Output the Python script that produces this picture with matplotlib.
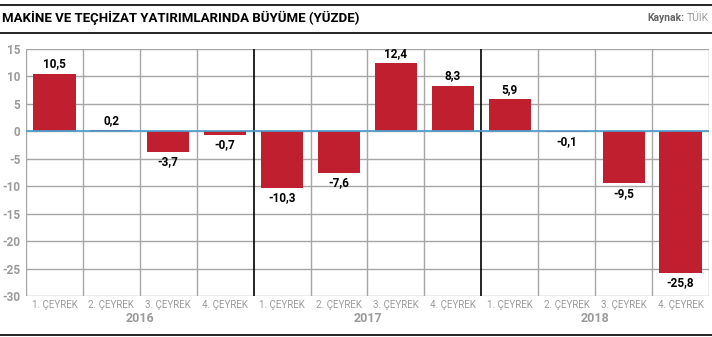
import matplotlib
matplotlib.use("Agg")
import matplotlib.pyplot as plt
from matplotlib.lines import Line2D

quarters = ["1. ÇEYREK", "2. ÇEYREK", "3. ÇEYREK", "4. ÇEYREK"] * 3
years = ["2016", "2017", "2018"]
values = [10.5, 0.2, -3.7, -0.7, -10.3, -7.6, 12.4, 8.3, 5.9, -0.1, -9.5, -25.8]
yticks = [15, 10, 5, 0, -5, -10, -15, -20, -25, -30]

title = "MAKİNE VE TEÇHİZAT YATIRIMLARINDA BÜYÜME (YÜZDE)"
source_bold = "Kaynak:"
source = "TÜİK"

RED = "#C01F2F"
GRID = "#A6A6A6"
GRAYTXT = "#9A9A9A"
FONT = ["Roboto", "DejaVu Sans"]

fig = plt.figure(figsize=(7.12, 3.37), dpi=100)
ax = fig.add_axes([26/712, 1-296/337, 683/712, 247/337])

n = len(values)
x = list(range(n))
ax.bar(x, values, width=0.74, color=RED, zorder=3)
ax.set_xlim(-0.5, n-0.5)
ax.set_ylim(-30, 15)

# grid
for yv in yticks:
    ax.axhline(yv, color=GRID, lw=1.0, zorder=1)
for i in range(n+1):
    xv = i - 0.5
    if i in (4, 8):
        ax.axvline(xv, color="black", lw=1.2, zorder=2)
    else:
        ax.axvline(xv, color=GRID, lw=1.0, zorder=1)
ax.axhline(0, color="#4A9FD0", lw=1.2, zorder=4)

for s in ax.spines.values():
    s.set_visible(False)
ax.set_yticks(yticks)
ax.set_yticklabels([str(v) for v in yticks], fontsize=8.5, color=GRAYTXT,
                   fontweight="bold", family=FONT)
ax.tick_params(axis="y", length=0, pad=4)
ax.set_xticks(x)
ax.set_xticklabels(quarters, fontsize=7, color=GRAYTXT, family=FONT)
ax.tick_params(axis="x", length=0, pad=3)

for xi, v in zip(x, values):
    lab = f"{v:.1f}".replace(".", ",")
    if v >= 0:
        ax.text(xi, v + 0.6, lab, ha="center", va="bottom", fontsize=8.5,
                fontweight="bold", color="black", family=FONT, zorder=5)
    else:
        ax.text(xi, v - 0.6, lab, ha="center", va="top", fontsize=8.5,
                fontweight="bold", color="black", family=FONT, zorder=5)

for k, yr in enumerate(years):
    xc = 4*k + 1.5
    ax.text(xc, -0.09, yr, transform=ax.get_xaxis_transform(), ha="center",
            va="center", fontsize=9, fontweight="bold", color=GRAYTXT, family=FONT)

# header lines and texts
fig.add_artist(Line2D([0, 1], [1-4.5/337, 1-4.5/337], color="black", lw=1.2))
fig.add_artist(Line2D([0, 1], [1-32.5/337, 1-32.5/337], color="black", lw=1.2))
fig.add_artist(Line2D([0, 1], [1-335/337, 1-335/337], color="black", lw=1.2))
fig.text(2/712, 1-18/337, title, fontsize=9.5, fontweight="bold", color="black",
         va="center", ha="left", family=FONT)
t2 = fig.text(709/712, 1-18/337, source, fontsize=7.5, color=GRAYTXT, va="center",
              ha="right", family=FONT)
fig.canvas.draw()
bb = t2.get_window_extent(renderer=fig.canvas.get_renderer())
fig.text((bb.x0 - 3) / fig.bbox.width, 1-18/337, source_bold, fontsize=7.5,
         color="#666666", fontweight="bold", va="center", ha="right", family=FONT)

fig.savefig("out.png", dpi=100)
